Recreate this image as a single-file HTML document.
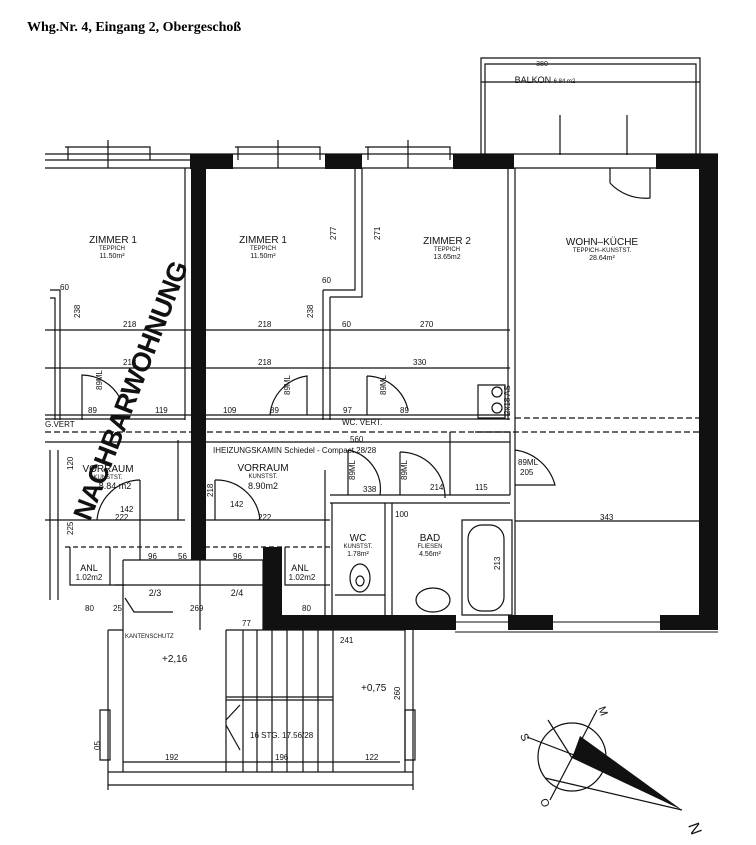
<!DOCTYPE html>
<html><head><meta charset="utf-8"><style>
html,body{margin:0;padding:0;background:#fff;}
svg{display:block}
.t{font-family:"Liberation Sans",sans-serif;fill:#111}
.n{font-family:"Liberation Sans Narrow","Liberation Sans",sans-serif;fill:#111;font-size:8px}
</style></head><body>
<svg width="756" height="845" viewBox="0 0 756 845" xmlns="http://www.w3.org/2000/svg">
<text x="27" y="31" font-family="Liberation Serif,serif" font-weight="bold" font-size="14" fill="#000">Whg.Nr. 4, Eingang 2, Obergeschoß</text>
<g stroke="#111" stroke-width="1.2" fill="none">
<!-- balcony -->
<path d="M481 155 V58 H700 V155"/><path d="M485 155 V64 H696 V155"/>
<path d="M481 82 H700"/><path d="M560 115 V155 M627 115 V155"/>
<!-- top wall -->
<path d="M45 154 H718 M45 168 H718 M45 160 H190"/>
<path d="M65 147 H150 V160 M235 147 H320 V160 M365 147 H450 V160 M68 147 V160 M238 147 V160 M368 147 V160"/>
<path d="M108 140 V168 M278 140 V168 M408 140 V168"/>
<!-- right room -->
<path d="M515 168 V615 M508 168 V420"/>
<path d="M610 168 V183 M610 183 A48 48 0 0 0 650 198 V168"/>
<!-- left-side rooms -->
<path d="M185 168 V420 M45 330 H510 M45 368 H510"/>
<path d="M50 290 H60 V420 M50 298 H55 V420"/>
<path d="M323 290 V420 M330 297 V420 M330 297 H362 V168 M323 290 H355 V168"/>
<path d="M45 415 H510 M45 419 H185 M205 419 H510"/>
<path d="M45 442 H510"/>
<path d="M45 432 H700" stroke-dasharray="6 3"/>
<path d="M515 418 H700" stroke-dasharray="6 3"/>
<!-- doors upper -->
<path d="M82 420 V375 A44 44 0 0 1 120 398 M82 375 V420"/>
<path d="M270 415 A43 43 0 0 1 307 376 V415"/>
<path d="M367 376 V415 M367 376 A43 43 0 0 1 408 410"/>
<path d="M478 385 H505 V418 H478 Z"/>
<circle cx="497" cy="392" r="5"/><circle cx="497" cy="408" r="5"/>
<!-- left lower -->
<path d="M50 450 V600 M58 450 V600 M45 520 H185 M205 520 H330"/>
<path d="M65 547 H185 M205 547 H330" stroke-dasharray="5 3"/>
<path d="M70 547 V585 H125 M110 547 V585"/>
<path d="M140 560 V520 M140 480 A44 44 0 0 0 97 520 M140 480 V520 M178 440 V520"/>
<path d="M215 480 A44 44 0 0 1 260 520 M215 480 V520"/>
<path d="M123 560 H263 M123 560 V772 M115 585 H263"/>
<path d="M285 547 V585 H330 M325 470 V615"/>
<!-- WC & Bath -->
<path d="M330 495 H510 M330 503 H510 M332 503 V615 M385 503 V615 M392 503 V615"/>
<path d="M348 450 A40 40 0 0 1 380 495 M348 450 V495"/>
<path d="M400 452 A45 45 0 0 1 445 498 M400 452 V495"/>
<path d="M450 432 V495 M475 432 H510 V495"/>
<path d="M515 450 A48 48 0 0 1 555 485 H515"/>
<path d="M462 520 H512 V615 H462 Z"/><rect x="468" y="525" width="36" height="86" rx="14"/>
<ellipse cx="360" cy="578" rx="10" ry="14"/><ellipse cx="360" cy="581" rx="4" ry="5"/>
<ellipse cx="433" cy="600" rx="17" ry="12"/>
<path d="M335 595 H385"/>
<path d="M515 521 H699"/>
<!-- stairs -->
<path d="M108 630 H123 M108 772 H413 M108 785 H413 M108 630 V790 M413 630 V790 M405 630 V772"/>
<path d="M226 630 H405 M226 630 V772 M333 630 V772 M226 697 H333 M226 700 H333"/>
<path d="M243 630 V772 M257 630 V772 M272 630 V772 M287 630 V772 M303 630 V772 M318 630 V772"/>
<path d="M226 720 L240 705 M226 725 L240 750"/>
<path d="M123 762 H400"/>
<path d="M100 710 H110 V760 H100 Z M405 710 H415 V760 H405 Z"/>
<path d="M125 598 L134 612 H173"/>
<path d="M200 630 V560 M263 560 V630"/>
<!-- compass -->
<circle cx="572" cy="757" r="34"/>
<path d="M527 737 L600 765 M597 710 L550 800 M545 778 L682 810 M548 720 L572 758"/>
</g>
<!-- black walls -->
<g fill="#111">
<rect x="190" y="154" width="43" height="15"/><rect x="325" y="154" width="37" height="15"/>
<rect x="453" y="154" width="61" height="15"/><rect x="656" y="154" width="62" height="15"/>
<rect x="191" y="154" width="15" height="406"/>
<rect x="699" y="154" width="19" height="476"/>
<rect x="263" y="547" width="19" height="83"/>
<rect x="263" y="615" width="193" height="15"/>
<rect x="508" y="615" width="45" height="15"/><rect x="660" y="615" width="58" height="15"/>
<polygon points="580,736 572,758 682,810"/>
</g>
<g stroke="#111" fill="none"><path d="M455 622 H508 M553 622 H660 M455 632 H718"/></g>
<!-- labels -->
<g class="t" text-anchor="middle">
<text x="113" y="243" font-size="10">ZIMMER 1</text><text x="112" y="250" font-size="6">TEPPICH</text><text x="112" y="258" font-size="7">11.50m²</text>
<text x="263" y="243" font-size="10">ZIMMER 1</text><text x="263" y="250" font-size="6">TEPPICH</text><text x="263" y="258" font-size="7">11.50m²</text>
<text x="447" y="244" font-size="10">ZIMMER 2</text><text x="447" y="251" font-size="6">TEPPICH</text><text x="447" y="259" font-size="7">13.65m2</text>
<text x="602" y="245" font-size="10">WOHN–KÜCHE</text><text x="602" y="252" font-size="6">TEPPICH–KUNSTST.</text><text x="602" y="260" font-size="7">28.64m²</text>
<text x="263" y="471" font-size="10">VORRAUM</text><text x="263" y="478" font-size="6">KUNSTST.</text><text x="263" y="489" font-size="9">8.90m2</text>
<text x="108" y="472" font-size="10">VORRAUM</text><text x="108" y="479" font-size="6">KUNSTST.</text><text x="115" y="489" font-size="9">8.84 m2</text>
<text x="358" y="541" font-size="10">WC</text><text x="358" y="548" font-size="6">KUNSTST.</text><text x="358" y="556" font-size="7">1.78m²</text>
<text x="430" y="541" font-size="10">BAD</text><text x="430" y="548" font-size="6">FLIESEN</text><text x="430" y="556" font-size="7">4.56m²</text>
<text x="89" y="571" font-size="9">ANL</text><text x="89" y="580" font-size="8">1.02m2</text>
<text x="300" y="571" font-size="9">ANL</text><text x="302" y="580" font-size="8">1.02m2</text>
<text x="155" y="596" font-size="9">2/3</text><text x="237" y="596" font-size="9">2/4</text>
<text x="545" y="83" font-size="9">BALKON <tspan font-size="6">6.84 m2</tspan></text>
<text x="542" y="66" font-size="7">380</text>
</g>
<g class="n">
<text x="213" y="453" font-size="8">IHEIZUNGSKAMIN Schiedel - Compact 28/28</text>
<text x="60" y="290">60</text><text x="123" y="327">218</text><text x="123" y="365">218</text><text x="258" y="327">218</text><text x="258" y="365">218</text>
<text x="420" y="327">270</text><text x="413" y="365">330</text><text x="342" y="327">60</text><text x="322" y="283">60</text>
<text x="88" y="413">89</text><text x="155" y="413">119</text><text x="223" y="413">109</text><text x="270" y="413">89</text><text x="343" y="413">97</text><text x="400" y="413">89</text>
<text x="350" y="442">560</text><text x="342" y="425">WC. VERT.</text><text x="45" y="427">G.VERT</text>
<text x="115" y="520">222</text><text x="258" y="520">222</text><text x="600" y="520">343</text>
<text x="148" y="559">96</text><text x="178" y="559">56</text><text x="233" y="559">96</text>
<text x="85" y="611">80</text><text x="113" y="611">25</text><text x="190" y="611">269</text><text x="302" y="611">80</text>
<text x="242" y="626">77</text><text x="125" y="638" font-size="6">KANTENSCHUTZ</text>
<text x="162" y="662" font-size="10">+2,16</text><text x="361" y="691" font-size="10">+0,75</text>
<text x="250" y="738">16 STG. 17.56/28</text>
<text x="165" y="760">192</text><text x="275" y="760">196</text><text x="365" y="760">122</text>
<text x="340" y="643">241</text><text x="120" y="512">142</text><text x="230" y="507">142</text>
<text x="363" y="492">338</text><text x="430" y="490">214</text><text x="475" y="490">115</text><text x="395" y="517">100</text>
<text x="518" y="465">89ML</text><text x="520" y="475">205</text>
</g>
<g class="n" font-size="8">
<text transform="translate(80,318) rotate(-90)">238</text>
<text transform="translate(313,318) rotate(-90)">238</text>
<text transform="translate(336,240) rotate(-90)">277</text>
<text transform="translate(380,240) rotate(-90)">271</text>
<text transform="translate(102,390) rotate(-90)">89ML</text>
<text transform="translate(290,395) rotate(-90)">89ML</text>
<text transform="translate(386,395) rotate(-90)">89ML</text>
<text transform="translate(510,415) rotate(-90)">2x18 AS</text>
<text transform="translate(475,525) rotate(-90)"></text>
<text transform="translate(500,570) rotate(-90)">213</text>
<text transform="translate(213,497) rotate(-90)">218</text>
<text transform="translate(73,470) rotate(-90)">120</text>
<text transform="translate(73,535) rotate(-90)">225</text>
<text transform="translate(400,700) rotate(-90)">260</text>
<text transform="translate(355,480) rotate(-90)">89ML</text>
<text transform="translate(407,480) rotate(-90)">89ML</text>
<text transform="translate(100,750) rotate(-90)">05</text>
</g>
<g class="t" font-size="11">
<text x="520" y="735" transform="rotate(70 520 735)">S</text>
<text x="598" y="708" transform="rotate(70 598 708)">M</text>
<text x="540" y="800" transform="rotate(70 540 800)">O</text>
<text x="688" y="825" font-size="16" transform="rotate(70 688 825)">N</text>
</g>
<text x="0" y="0" class="t" font-size="27" font-weight="bold" text-anchor="middle" textLength="275" transform="translate(130,390) rotate(-69)" dy="10">NACHBARWOHNUNG</text>
</svg>
</body></html>
